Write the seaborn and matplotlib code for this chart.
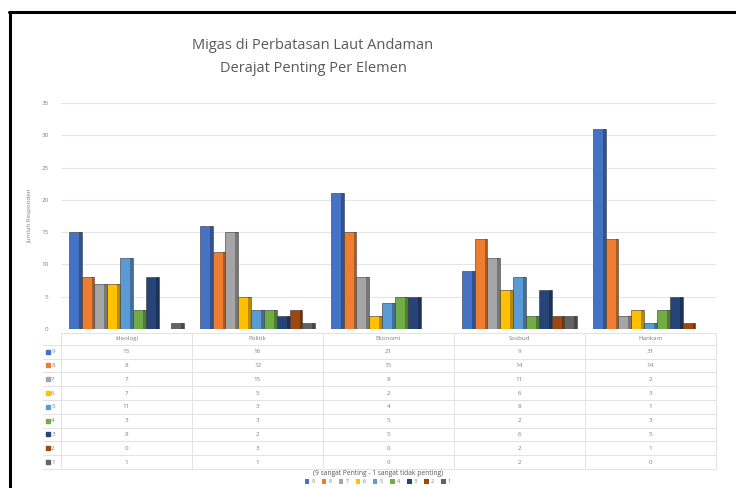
import matplotlib
matplotlib.use("Agg")
import matplotlib.pyplot as plt
import seaborn as sns
import pandas as pd
from matplotlib.patches import Patch
from matplotlib.lines import Line2D

elements = ["Ideologi", "Politik", "Ekonomi", "Sosbud", "Hankam"]
levels = ["9", "8", "7", "6", "5", "4", "3", "2", "1"]

score_9 = [15, 16, 21, 9, 31]
score_8 = [8, 12, 15, 14, 14]
score_7 = [7, 15, 8, 11, 2]
score_6 = [7, 5, 2, 6, 3]
score_5 = [11, 3, 4, 8, 1]
score_4 = [3, 3, 5, 2, 3]
score_3 = [8, 2, 5, 6, 5]
score_2 = [0, 3, 0, 2, 1]
score_1 = [1, 1, 0, 2, 0]

series = [score_9, score_8, score_7, score_6, score_5,
          score_4, score_3, score_2, score_1]

colors = ["#4472C4", "#ED7D31", "#A5A5A5", "#FFC000", "#5B9BD5",
          "#70AD47", "#264478", "#9E480E", "#636363"]

rows = []
for lvl, vals in zip(levels, series):
    for el, v in zip(elements, vals):
        rows.append({"Elemen": el, "Derajat": lvl, "Jumlah": v})
df = pd.DataFrame(rows)

sns.set_theme(style="white")
plt.rcParams["font.family"] = ["Open Sans", "DejaVu Sans"]

W, H = 736, 488
fig = plt.figure(figsize=(W / 100, H / 100), dpi=100)

def box(x0, y0, x1, y1):
    return [x0 / W, 1 - y1 / H, (x1 - x0) / W, (y1 - y0) / H]

ax = fig.add_axes(box(61, 103, 716, 329))
sns.barplot(data=df, x="Elemen", y="Jumlah", hue="Derajat",
            order=elements, hue_order=levels, palette=colors,
            width=0.88, gap=0, saturation=1, ax=ax, legend=False,
            edgecolor="#333333", linewidth=0.4)

# darken the right side of each bar to suggest depth
for bar in list(ax.patches):
    h = bar.get_height()
    if h <= 0:
        continue
    x = bar.get_x()
    w = bar.get_width()
    ax.add_patch(plt.Rectangle((x + w * 0.78, 0), w * 0.22, h,
                               facecolor="black", alpha=0.28,
                               linewidth=0, zorder=bar.get_zorder() + 0.1))

ax.set_ylim(0, 35)
ax.set_xlim(-0.5, 4.5)
ax.set_yticks(range(0, 36, 5))
ax.tick_params(axis="y", labelsize=4.5, labelcolor="#7f7f7f", length=0, pad=9)
ax.set_xticks([])
ax.set_xlabel("")
ax.set_ylabel("Jumlah Responden", fontsize=4.5, color="#7f7f7f", labelpad=6)
ax.yaxis.grid(True, color="#e6e6e6", linewidth=0.8)
ax.set_axisbelow(True)
for s in ax.spines.values():
    s.set_visible(False)

# data table beneath the plot: a short header row and nine value rows
tab = fig.add_axes(box(61, 333, 716, 469))
tab.set_xlim(-0.5, 4.5)
header_h = 0.85
n_vals = len(levels)
tab.set_ylim(header_h + n_vals, 0)
tab.axis("off")
lines_y = [0] + [header_h + i for i in range(n_vals + 1)]
for yy in lines_y:
    tab.plot([-0.5, 4.5], [yy, yy], color="#e3e3e3", linewidth=0.7,
             clip_on=False)
for yy in lines_y[1:]:
    tab.plot([-0.64, -0.5], [yy, yy], color="#e3e3e3", linewidth=0.7,
             clip_on=False)
for j in range(6):
    tab.plot([j - 0.5, j - 0.5], [0, header_h + n_vals], color="#e3e3e3",
             linewidth=0.7, clip_on=False)
for j, el in enumerate(elements):
    tab.text(j, header_h / 2, el, ha="center", va="center", fontsize=4.5,
             color="#7f7f7f")
for i, (lvl, vals, c) in enumerate(zip(levels, series, colors)):
    y = header_h + i + 0.5
    tab.plot([-0.6], [y], marker="s", markersize=2.8, color=c,
             clip_on=False, linestyle="none")
    tab.text(-0.575, y, lvl, ha="left", va="center", fontsize=4.5,
             color="#7f7f7f")
    for j, v in enumerate(vals):
        tab.text(j, y, str(v), ha="center", va="center", fontsize=4.5,
                 color="#7f7f7f")

# legend
handles = [Patch(facecolor=c, edgecolor="none", label=l)
           for c, l in zip(colors, levels)]
leg = fig.legend(handles=handles, loc="center", ncol=9,
                 bbox_to_anchor=(378 / W, 1 - 477 / H),
                 title="(9 sangat Penting - 1 sangat tidak penting)",
                 title_fontsize=4.8, fontsize=4, frameon=False,
                 handlelength=0.8, handleheight=0.8, handletextpad=0.4,
                 columnspacing=1.3, borderpad=0, labelcolor="#7f7f7f")
leg.get_title().set_color("#595959")

fig.text(313 / W, 1 - 46 / H, "Migas di Perbatasan Laut Andaman",
         ha="center", va="center", fontsize=10.5, color="#595959")
fig.text(313 / W, 1 - 69 / H, "Derajat Penting Per Elemen",
         ha="center", va="center", fontsize=10.5, color="#595959")

# outer frame (left and top edges)
fig.add_artist(Line2D([10 / W, 10 / W], [0, 1 - 12 / H], color="black",
                      linewidth=2.2, transform=fig.transFigure))
fig.add_artist(Line2D([9 / W, 1], [1 - 12 / H, 1 - 12 / H], color="black",
                      linewidth=2.2, transform=fig.transFigure))

fig.savefig("out.png", dpi=100)
